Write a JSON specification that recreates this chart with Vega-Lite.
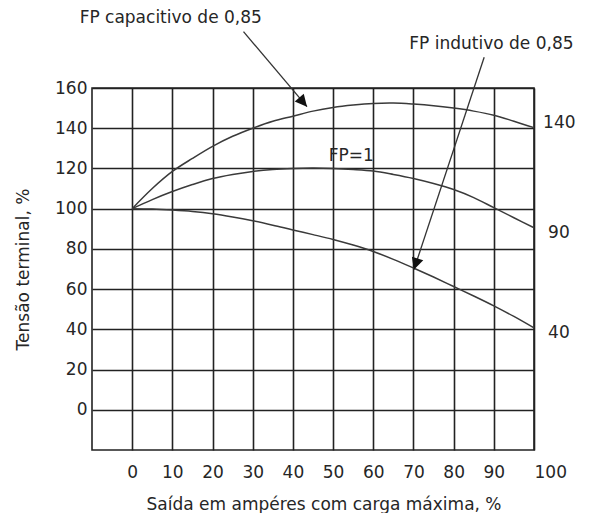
{
  "$schema": "https://vega.github.io/schema/vega-lite/v6.json",
  "width": 442,
  "height": 362,
  "autosize": {"type": "none"},
  "padding": {"left": 92, "top": 88, "right": 59, "bottom": 63},
  "background": "white",
  "config": {
    "view": {"stroke": "#222222", "strokeWidth": 1.6},
    "font": "DejaVu Sans",
    "axis": {
      "labelFont": "DejaVu Sans",
      "labelFontSize": 17,
      "labelColor": "#262626",
      "labelOverlap": false,
      "titleFont": "DejaVu Sans",
      "titleFontSize": 17,
      "titleFontWeight": "normal",
      "titleColor": "#262626",
      "grid": true,
      "gridColor": "#222222",
      "gridWidth": 1.6,
      "gridOpacity": 1,
      "ticks": false,
      "domain": false
    }
  },
  "datasets": {
    "curves": [
      {"series": "FP capacitivo de 0,85", "x": 0, "y": 100},
      {"series": "FP capacitivo de 0,85", "x": 5, "y": 110},
      {"series": "FP capacitivo de 0,85", "x": 10, "y": 118.5},
      {"series": "FP capacitivo de 0,85", "x": 15, "y": 125},
      {"series": "FP capacitivo de 0,85", "x": 20, "y": 131},
      {"series": "FP capacitivo de 0,85", "x": 25, "y": 136},
      {"series": "FP capacitivo de 0,85", "x": 30, "y": 140},
      {"series": "FP capacitivo de 0,85", "x": 35, "y": 143.5},
      {"series": "FP capacitivo de 0,85", "x": 40, "y": 146},
      {"series": "FP capacitivo de 0,85", "x": 45, "y": 148.5},
      {"series": "FP capacitivo de 0,85", "x": 50, "y": 150.3},
      {"series": "FP capacitivo de 0,85", "x": 55, "y": 151.5},
      {"series": "FP capacitivo de 0,85", "x": 60, "y": 152.3},
      {"series": "FP capacitivo de 0,85", "x": 65, "y": 152.5},
      {"series": "FP capacitivo de 0,85", "x": 70, "y": 152},
      {"series": "FP capacitivo de 0,85", "x": 75, "y": 151.2},
      {"series": "FP capacitivo de 0,85", "x": 80, "y": 150},
      {"series": "FP capacitivo de 0,85", "x": 85, "y": 148.5},
      {"series": "FP capacitivo de 0,85", "x": 90, "y": 146.5},
      {"series": "FP capacitivo de 0,85", "x": 95, "y": 143.5},
      {"series": "FP capacitivo de 0,85", "x": 100, "y": 140.3},
      {"series": "FP=1", "x": 0, "y": 100},
      {"series": "FP=1", "x": 5, "y": 104.5},
      {"series": "FP=1", "x": 10, "y": 108.5},
      {"series": "FP=1", "x": 15, "y": 112},
      {"series": "FP=1", "x": 20, "y": 115},
      {"series": "FP=1", "x": 25, "y": 117},
      {"series": "FP=1", "x": 30, "y": 118.5},
      {"series": "FP=1", "x": 35, "y": 119.5},
      {"series": "FP=1", "x": 40, "y": 120},
      {"series": "FP=1", "x": 45, "y": 120.2},
      {"series": "FP=1", "x": 50, "y": 120},
      {"series": "FP=1", "x": 55, "y": 119.5},
      {"series": "FP=1", "x": 60, "y": 118.7},
      {"series": "FP=1", "x": 65, "y": 117},
      {"series": "FP=1", "x": 70, "y": 115},
      {"series": "FP=1", "x": 75, "y": 112.5},
      {"series": "FP=1", "x": 80, "y": 109.5},
      {"series": "FP=1", "x": 85, "y": 105.5},
      {"series": "FP=1", "x": 90, "y": 100.5},
      {"series": "FP=1", "x": 95, "y": 95.5},
      {"series": "FP=1", "x": 100, "y": 90.5},
      {"series": "FP indutivo de 0,85", "x": 0, "y": 100},
      {"series": "FP indutivo de 0,85", "x": 5, "y": 99.8},
      {"series": "FP indutivo de 0,85", "x": 10, "y": 99.3},
      {"series": "FP indutivo de 0,85", "x": 15, "y": 98.6},
      {"series": "FP indutivo de 0,85", "x": 20, "y": 97.5},
      {"series": "FP indutivo de 0,85", "x": 25, "y": 95.9},
      {"series": "FP indutivo de 0,85", "x": 30, "y": 94},
      {"series": "FP indutivo de 0,85", "x": 35, "y": 91.8},
      {"series": "FP indutivo de 0,85", "x": 40, "y": 89.4},
      {"series": "FP indutivo de 0,85", "x": 45, "y": 87.1},
      {"series": "FP indutivo de 0,85", "x": 50, "y": 84.7},
      {"series": "FP indutivo de 0,85", "x": 55, "y": 81.9},
      {"series": "FP indutivo de 0,85", "x": 60, "y": 78.7},
      {"series": "FP indutivo de 0,85", "x": 65, "y": 74.8},
      {"series": "FP indutivo de 0,85", "x": 70, "y": 70.5},
      {"series": "FP indutivo de 0,85", "x": 75, "y": 66},
      {"series": "FP indutivo de 0,85", "x": 80, "y": 61.3},
      {"series": "FP indutivo de 0,85", "x": 85, "y": 56.6},
      {"series": "FP indutivo de 0,85", "x": 90, "y": 51.7},
      {"series": "FP indutivo de 0,85", "x": 95, "y": 46.4},
      {"series": "FP indutivo de 0,85", "x": 100, "y": 40.7}
    ],
    "arrows": [
      {"arrow": "capacitivo", "part": "start", "x": 27.7, "y": 188.0},
      {"arrow": "capacitivo", "part": "tip", "x": 43.5, "y": 150.7},
      {"arrow": "indutivo", "part": "start", "x": 87.6, "y": 175.3},
      {"arrow": "indutivo", "part": "tip", "x": 70.1, "y": 69.6}
    ],
    "labels": [
      {"text": "FP capacitivo de 0,85", "x": 9.6, "y": 195.0},
      {"text": "FP indutivo de 0,85", "x": 89.4, "y": 181.9},
      {"text": "FP=1", "x": 54.5, "y": 126.0},
      {"text": "140", "x": 106.3, "y": 142.5},
      {"text": "90", "x": 106.2, "y": 88.0},
      {"text": "40", "x": 106.2, "y": 38.3}
    ]
  },
  "encoding": {
    "x": {
      "field": "x",
      "type": "quantitative",
      "scale": {"domain": [-10, 100], "nice": false, "zero": false},
      "axis": {
        "values": [0, 10, 20, 30, 40, 50, 60, 70, 80, 90, 100],
        "title": "Saída em ampéres com carga máxima, %",
        "labelBaseline": "alphabetic",
        "labelAlign": {"expr": "datum.value === 100 ? 'left' : 'center'"},
        "labelPadding": 27,
        "titleX": 231.5,
        "titleY": 59,
        "titleBaseline": "alphabetic",
        "titleAlign": "center"
      }
    },
    "y": {
      "field": "y",
      "type": "quantitative",
      "scale": {"domain": [-20, 160], "nice": false, "zero": false},
      "axis": {
        "values": [0, 20, 40, 60, 80, 100, 120, 140, 160],
        "title": "Tensão terminal, %",
        "labelPadding": 5,
        "titleAngle": -90,
        "titleX": -69,
        "titleY": 181,
        "titleAlign": "center",
        "titleBaseline": "middle"
      }
    }
  },
  "layer": [
    {
      "data": {"name": "curves"},
      "mark": {"type": "line", "interpolate": "catmull-rom", "color": "#3a3a3a", "strokeWidth": 1.5},
      "encoding": {"detail": {"field": "series"}}
    },
    {
      "data": {"name": "arrows"},
      "mark": {"type": "line", "color": "#333333", "strokeWidth": 1.3},
      "encoding": {"detail": {"field": "arrow"}}
    },
    {
      "data": {"name": "arrows"},
      "transform": [{"filter": "datum.part === 'tip' && datum.arrow === 'capacitivo'"}],
      "mark": {"type": "point", "shape": "M0,0L0.85,1.7L-0.85,1.7Z", "filled": true, "color": "#111111", "opacity": 1, "size": 196, "angle": 139.5}
    },
    {
      "data": {"name": "arrows"},
      "transform": [{"filter": "datum.part === 'tip' && datum.arrow === 'indutivo'"}],
      "mark": {"type": "point", "shape": "M0,0L0.85,1.7L-0.85,1.7Z", "filled": true, "color": "#111111", "opacity": 1, "size": 196, "angle": 198.3}
    },
    {
      "data": {"name": "labels"},
      "mark": {"type": "text", "font": "DejaVu Sans", "fontSize": 17, "color": "#262626", "align": "center", "baseline": "middle"},
      "encoding": {"text": {"field": "text"}}
    }
  ]
}
